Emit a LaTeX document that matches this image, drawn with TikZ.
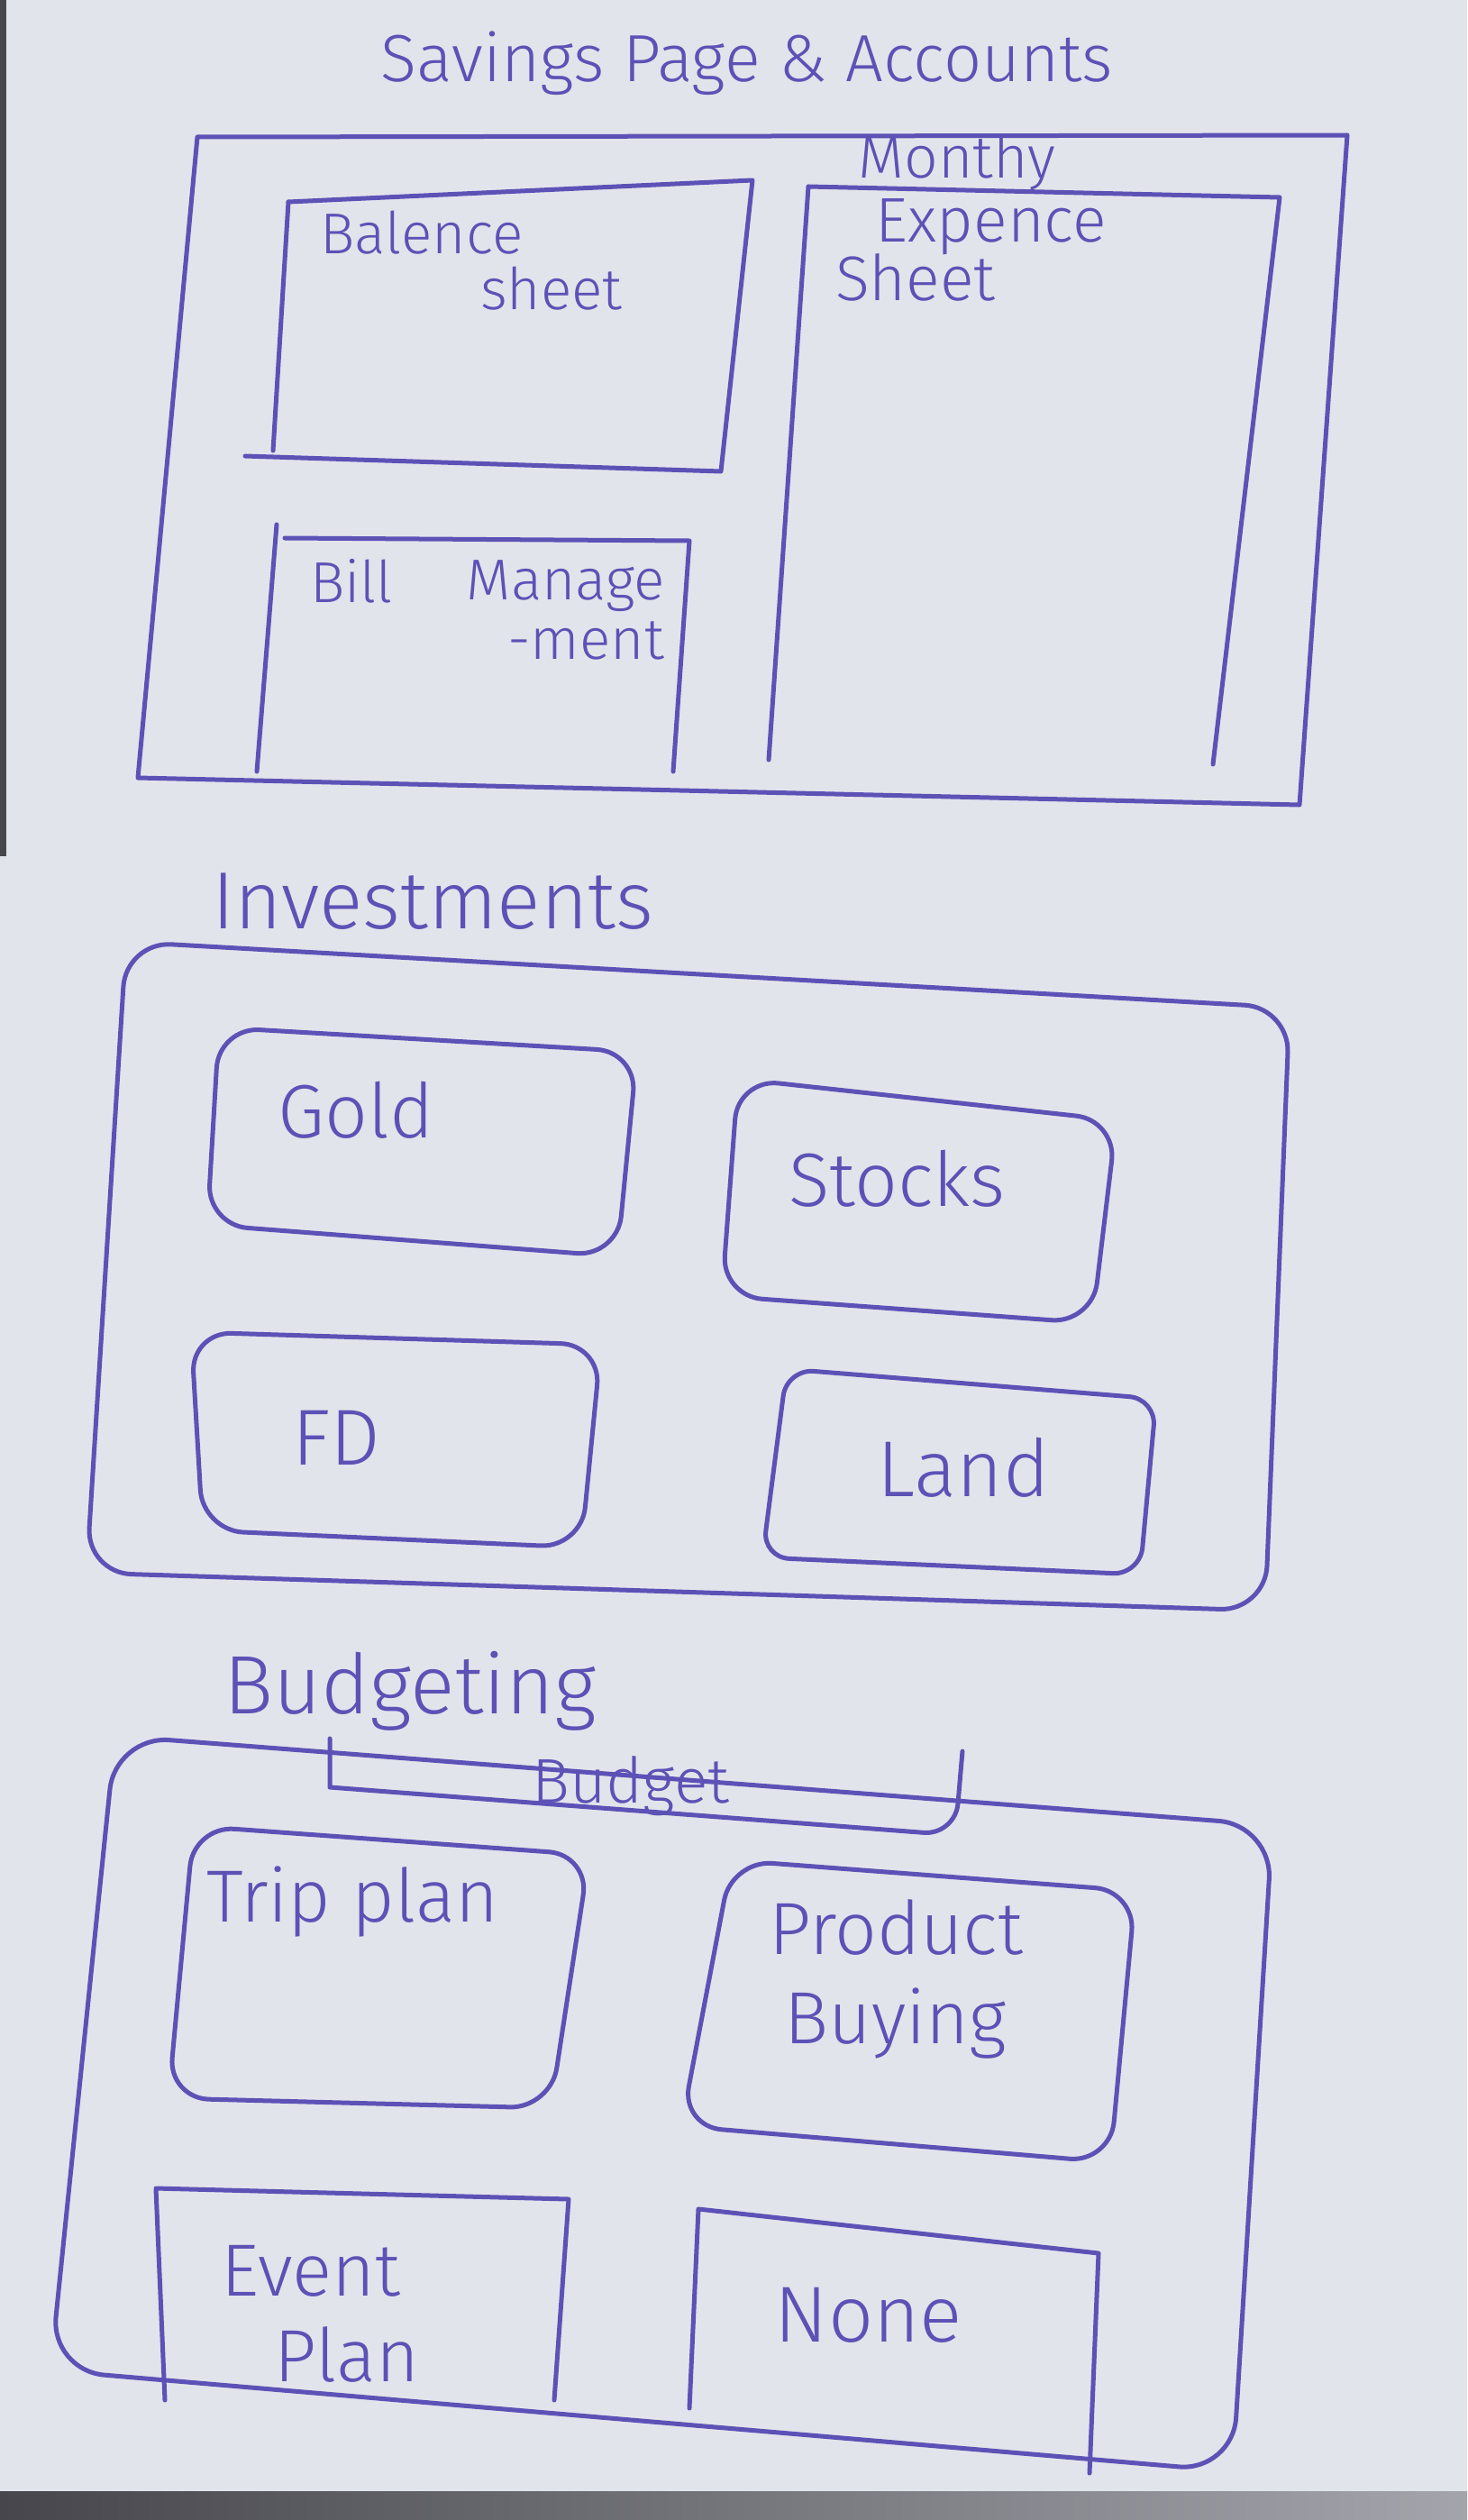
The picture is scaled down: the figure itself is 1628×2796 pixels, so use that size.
\documentclass[tikz,border=0pt]{standalone}
\usepackage{fontspec}
\setmainfont{Fira Sans Light}
\definecolor{inkc}{RGB}{92,82,182}
\definecolor{paperc}{RGB}{226,228,235}
\definecolor{edgec}{RGB}{70,70,76}
\begin{document}
\begin{tikzpicture}[x=1pt,y=-1pt,
  ink/.style={draw=inkc, line width=5pt, line join=round, line cap=round},
  soft/.style={ink, rounded corners=45pt},
  lbl/.style={text=inkc, inner sep=0pt, align=left},
  fs/.style={font=\fontsize{#1}{#1}\selectfont},
]
% sheet of paper
\fill[paperc] (0,0) rectangle (1628,2796);
\useasboundingbox (0,0) rectangle (1628,2796);
\fill[left color=edgec, right color=edgec!40!paperc] (0,2764) rectangle (1628,2796);
\fill[edgec] (0,0) rectangle (7,950);

% heading
\node[lbl, fs=74] (title) at (829,70) {Savings Page \& Accounts};

% ---- accounts section
\draw[ink] (219,152) -- (1495,150) -- (1442,893) -- (153,863) -- cycle;
% balance sheet
\draw[ink] (320,224) -- (835,200) -- (800,523) -- (272,506);
\draw[ink] (320,224) -- (303,500);
\node[lbl, fs=64] (bal1) at (468,258) {Balence};
\node[lbl, fs=64] (bal2) at (612,320) {sheet};
% monthly expense sheet
\node[lbl, fs=66] (mon) at (1062,180) {Monthy};
\draw[ink] (897,207) -- (1420,219) -- (1346,848);
\draw[ink] (897,207) -- (853,843);
\node[lbl, fs=70] (exp1) at (1100,252) {Expence};
\node[lbl, fs=70] (exp2) at (1016,308) {Sheet};
% bill management
\draw[ink] (316,597) -- (765,600) -- (747,856);
\draw[ink] (307,582) -- (285,856);
\node[lbl, fs=64] (bill1) at (390,645) {Bill};
\node[lbl, fs=64] (bill2) at (628,650) {Manage};
\node[lbl, fs=64] (bill3) at (650,711) {-ment};

% ---- investments section
\node[lbl, fs=90] (inv) at (480,1000) {Investments};
\draw[ink, rounded corners=50pt] (140,1045) -- (1431,1118) -- (1404,1787) -- (96,1745) -- cycle;
\draw[soft] (243,1140) -- (707,1167) -- (685,1394) -- (230,1359) -- cycle;
\node[lbl, fs=84] (gold) at (395,1232) {Gold};
\draw[soft] (819,1197) -- (1239,1243) -- (1212,1468) -- (801,1438) -- cycle;
\node[lbl, fs=84] (stocks) at (995,1308) {Stocks};
\draw[soft] (212,1478) -- (667,1492) -- (645,1717) -- (225,1698) -- cycle;
\node[lbl, fs=88] (fd) at (373,1595) {FD};
\draw[ink, rounded corners=30pt] (873,1519) -- (1283,1552) -- (1265,1747) -- (846,1728) -- cycle;
\node[lbl, fs=88] (land) at (1069,1628) {Land};

% ---- budgeting section
\node[lbl, fs=92] (bud) at (455,1876) {Budgeting};
\draw[ink, rounded corners=60pt] (128,1926) -- (1412,2025) -- (1368,2742) -- (56,2630) -- cycle;
\draw[ink] (366,1929) -- (366,1983) [rounded corners=35pt] -- (1060,2036) -- (1068,1943);
\node[lbl, fs=70] (budget) at (700,1982) {Budget};
\draw[soft] (215,2026) -- (654,2058) -- (611,2339) -- (187,2328) -- cycle;
\node[lbl, fs=82] (trip) at (391,2110) {Trip plan};
\draw[soft] (812,2064) -- (1260,2098) -- (1232,2399) -- (756,2359) -- cycle;
\node[lbl, fs=82] (prod1) at (994,2138) {Product};
\node[lbl, fs=82] (prod2) at (994,2245) {Buying};
\draw[ink] (183,2663) -- (173,2428) -- (631,2440) -- (615,2663);
\node[lbl, fs=82] (ev1) at (345,2520) {Event};
\node[lbl, fs=82] (ev2) at (385,2612) {Plan};
\draw[ink] (765,2672) -- (775,2451) -- (1219,2500) -- (1209,2744);
\node[lbl, fs=88] (none) at (964,2569) {None};
\end{tikzpicture}
\end{document}
